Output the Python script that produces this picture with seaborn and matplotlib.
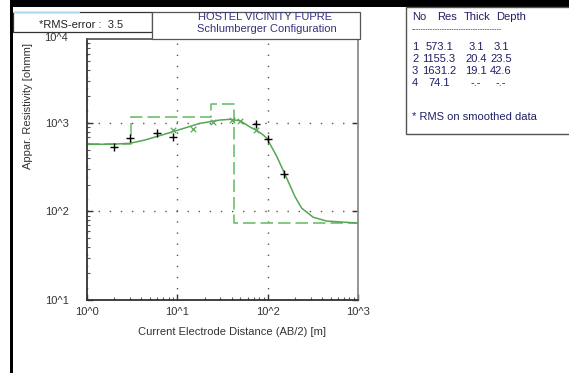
import matplotlib
matplotlib.use("Agg")
import numpy as np
import pandas as pd
import seaborn as sns
import matplotlib.pyplot as plt
from matplotlib.patches import Rectangle
from matplotlib.ticker import NullFormatter

# field data (AB/2 in m, apparent resistivity in ohmm)
field_ab2 = [2, 3, 6, 9, 75, 100, 150]
field_rho = [541, 672, 765, 690, 967, 657, 264]

# smoothed data points
smooth_ab2 = [9, 15, 25, 40, 50, 75]
smooth_rho = [834, 850, 1018, 1095, 1053, 823]

# calculated curve
curve_ab2 = [1.0, 2.0, 3.0, 4.4, 6.4, 9.4, 12.2, 17.8, 29.6, 38.4, 49.5, 65, 75,
             89.5, 98, 126, 165, 200, 238, 320, 450, 1000]
curve_rho = [573, 577, 590, 643, 720, 810, 880, 990, 1080, 1100, 1060, 890, 830,
             730, 672, 420, 230, 148, 109, 86, 78, 74]

# layer model
layer_no = [1, 2, 3, 4]
layer_res = [573.1, 1155.3, 1631.2, 74.1]
layer_thick = ["3.1", "20.4", "19.1", "-.-"]
layer_depth = [3.1, 23.5, 42.6]

x_ticks = [1, 10, 100, 1000]
x_labels = ["10^0", "10^1", "10^2", "10^3"]
y_ticks = [10, 100, 1000]
y_labels = ["10^1", "10^2", "10^3"]
y_top_label = "10^4"
rms_error = 3.5

# step line for the model
model_x = [1.0]
model_y = [layer_res[0]]
for i, d in enumerate(layer_depth):
    model_x += [d, d]
    model_y += [layer_res[i], layer_res[i + 1]]
model_x.append(1000.0)
model_y.append(layer_res[-1])
model = pd.DataFrame({"ab2": model_x, "rho": model_y})

sns.set_theme(style="white")
plt.rcParams["font.family"] = ["Liberation Sans", "DejaVu Sans"]

W, H = 569, 373
fig = plt.figure(figsize=(W / 100, H / 100), dpi=100)
fig.patch.set_facecolor("white")


def fx(x):
    return x / W


def fy(y):
    return 1 - y / H


ax = fig.add_axes([fx(87), fy(300), 271 / W, 261 / H])
ax.set_xscale("log")
ax.set_yscale("log")

sns.lineplot(data=model, x="ab2", y="rho", ax=ax, sort=False, estimator=None,
             color="#6cbf6c", linewidth=1.2, linestyle=(0, (7.5, 3)))
sns.lineplot(x=curve_ab2, y=curve_rho, ax=ax, color="#55a555", linewidth=1.1)
sns.scatterplot(x=smooth_ab2, y=smooth_rho, ax=ax, marker="x", color="#5aa95a",
                s=16, linewidth=0.9, zorder=4)
sns.scatterplot(x=field_ab2, y=field_rho, ax=ax, marker="+", color="black",
                s=36, linewidth=1.0, zorder=5)

ax.set_xlim(1, 1000)
ax.set_ylim(10, 10 ** 3.949)
ax.set_xticks(x_ticks)
ax.set_xticklabels(x_labels)
ax.set_yticks(y_ticks)
ax.set_yticklabels(y_labels)
ax.xaxis.set_minor_formatter(NullFormatter())
ax.yaxis.set_minor_formatter(NullFormatter())
# the top decade label sits just above the frame
ax.annotate(y_top_label, xy=(1, 10000), xycoords="data", xytext=(-13.5, -2.6),
            textcoords="offset points", fontsize=8, color="#333333",
            ha="right", va="center", annotation_clip=False)

ax.grid(True, which="major", linestyle=(0, (1, 7)), color="#555555", linewidth=1)
ax.tick_params(which="major", direction="in", length=4, width=1, colors="#333333",
               left=True, bottom=True, right=True, top=False, labelsize=8)
ax.tick_params(axis="y", which="major", pad=13)
ax.tick_params(axis="x", which="major", pad=5)
ax.tick_params(which="minor", direction="in", length=2.5, width=0.8, color="#555555",
               left=True, bottom=True, right=False, top=False)
for side in ["left", "bottom"]:
    ax.spines[side].set_color("#333333")
    ax.spines[side].set_linewidth(1.3)
ax.spines["right"].set_color("#888888")
ax.spines["top"].set_color("#555555")

ax.set_xlabel("Current Electrode Distance (AB/2) [m]", fontsize=8, color="#333333")
ax.set_ylabel("Appar. Resistivity [ohmm]", fontsize=8, color="#333333")
ax.xaxis.set_label_coords(0.535, -0.105)
ax.yaxis.set_label_coords(-0.20, 0.745)

# black frame of the screenshot
fig.add_artist(Rectangle((fx(10), 0), fx(3), 1, transform=fig.transFigure,
                         facecolor="black", edgecolor="none"))
fig.add_artist(Rectangle((fx(10), fy(7)), 1, fy(0) - fy(7), transform=fig.transFigure,
                         facecolor="black", edgecolor="none"))

# header boxes
fig.add_artist(Rectangle((fx(13), fy(31.5)), fx(152 - 13), fy(12) - fy(31.5),
                         transform=fig.transFigure, facecolor="white",
                         edgecolor="#333333", linewidth=0.9))
fig.add_artist(Rectangle((fx(13), fy(13)), fx(80 - 13), fy(12) - fy(13),
                         transform=fig.transFigure, facecolor="#a8d8f0",
                         edgecolor="none"))
fig.add_artist(Rectangle((fx(152), fy(39)), fx(360 - 152), fy(12) - fy(39),
                         transform=fig.transFigure, facecolor="white",
                         edgecolor="#555555", linewidth=0.9))
fig.text(fx(39), fy(24.5), f"*RMS-error :  {rms_error}", fontsize=8, color="#222222",
         va="center", ha="left")
fig.text(fx(265), fy(17.5), "HOSTEL VICINITY FUPRE", fontsize=8, color="#333380",
         ha="center", va="center")
fig.text(fx(267), fy(29), "Schlumberger Configuration", fontsize=8, color="#333380",
         ha="center", va="center")

# layer table
fig.add_artist(Rectangle((fx(406), fy(134)), fx(575 - 406), fy(7) - fy(134),
                         transform=fig.transFigure, facecolor="white",
                         edgecolor="#555555", linewidth=1.0))
tcol = "#1f1f66"
fig.text(fx(412), fy(17), "No", fontsize=8, color=tcol, va="center")
fig.text(fx(447), fy(17), "Res", fontsize=8, color=tcol, va="center", ha="center")
fig.text(fx(477), fy(17), "Thick", fontsize=8, color=tcol, va="center", ha="center")
fig.text(fx(511), fy(17), "Depth", fontsize=8, color=tcol, va="center", ha="center")
fig.text(fx(412), fy(30), "-" * 38, fontsize=5, color=tcol, va="center")
for i in range(len(layer_no)):
    ry = 47 + 12 * i
    depth = f"{layer_depth[i]:.1f}" if i < len(layer_depth) else "-.-"
    fig.text(fx(412), fy(ry), str(layer_no[i]), fontsize=8, color=tcol, va="center")
    fig.text(fx(439), fy(ry), f"{layer_res[i]:.1f}", fontsize=8, color=tcol,
             va="center", ha="center")
    fig.text(fx(476), fy(ry), layer_thick[i], fontsize=8, color=tcol,
             va="center", ha="center")
    fig.text(fx(501), fy(ry), depth, fontsize=8, color=tcol, va="center", ha="center")
fig.text(fx(412), fy(117), "* RMS on smoothed data", fontsize=8, color=tcol, va="center")

fig.savefig("out.png", dpi=100)
